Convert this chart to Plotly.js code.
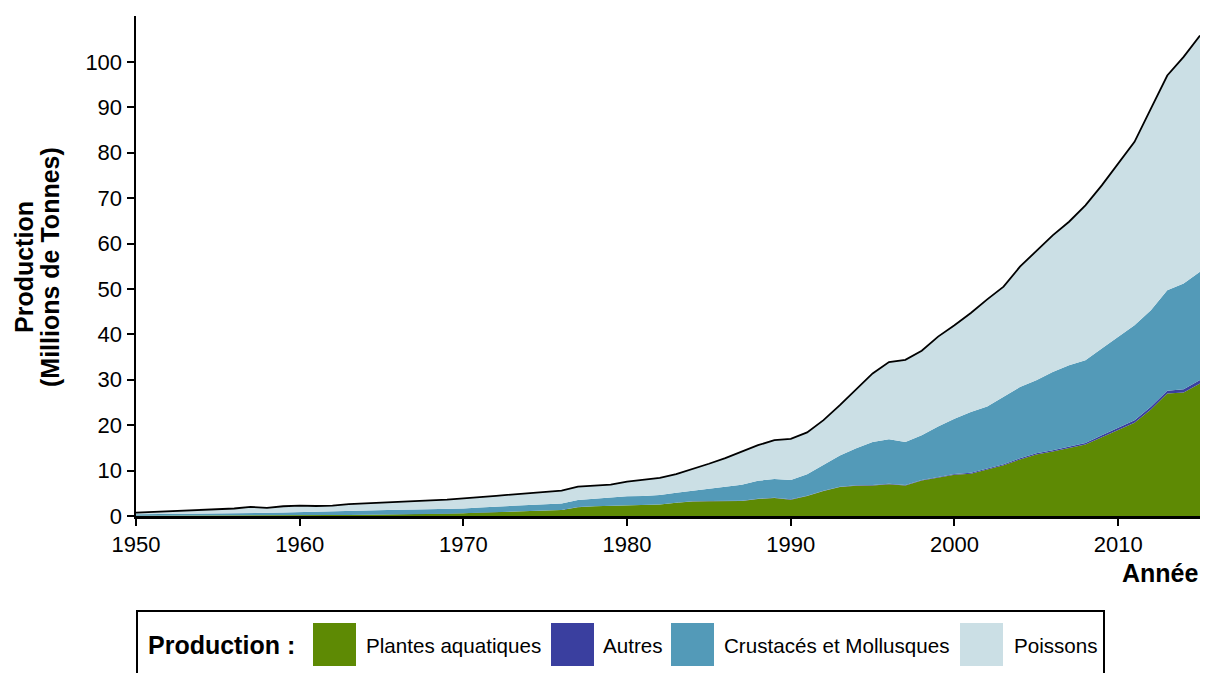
<!DOCTYPE html>
<html><head><meta charset="utf-8">
<script src="https://cdn.plot.ly/plotly-3.0.1.min.js"></script>
<style>html,body{margin:0;padding:0;background:#fff;} #chart{width:1205px;height:673px;}</style>
</head><body><div id="chart"></div>
<script>
const years = [1950,1951,1952,1953,1954,1955,1956,1957,1958,1959,
  1960,1961,1962,1963,1964,1965,1966,1967,1968,1969,
  1970,1971,1972,1973,1974,1975,1976,1977,1978,1979,
  1980,1981,1982,1983,1984,1985,1986,1987,1988,1989,
  1990,1991,1992,1993,1994,1995,1996,1997,1998,1999,
  2000,2001,2002,2003,2004,2005,2006,2007,2008,2009,
  2010,2011,2012,2013,2014,2015];

const plantes = [0.05,0.05,0.06,0.07,0.08,0.09,0.10,0.10,0.12,0.13,
  0.15,0.17,0.20,0.22,0.25,0.30,0.35,0.40,0.45,0.50,
  0.60,0.75,0.90,1.00,1.10,1.20,1.30,1.95,2.15,2.25,
  2.45,2.52,2.52,2.90,3.20,3.27,3.33,3.33,3.76,3.98,
  3.60,4.40,5.50,6.37,6.66,6.72,7.00,6.70,7.80,8.50,
  9.08,9.32,10.30,11.18,12.45,13.52,14.20,14.90,15.72,17.35,
  19.00,20.55,23.45,26.95,27.20,29.20];

const autres = [0.01,0.01,0.01,0.01,0.01,0.01,0.01,0.01,0.01,0.01,
  0.01,0.01,0.01,0.01,0.01,0.01,0.01,0.01,0.01,0.01,
  0.01,0.01,0.01,0.01,0.01,0.02,0.02,0.02,0.02,0.02,
  0.02,0.02,0.02,0.03,0.03,0.03,0.04,0.04,0.05,0.05,
  0.07,0.07,0.07,0.08,0.09,0.10,0.10,0.12,0.12,0.15,
  0.16,0.18,0.20,0.22,0.25,0.28,0.30,0.35,0.38,0.45,
  0.50,0.55,0.60,0.65,0.70,0.75];

const crustaces = [0.34,0.36,0.37,0.38,0.41,0.45,0.49,0.54,0.57,0.64,
  0.69,0.72,0.74,0.77,0.84,0.94,0.99,1.04,1.04,1.04,
  1.04,1.09,1.19,1.24,1.29,1.33,1.43,1.53,1.63,1.73,
  1.88,1.86,2.06,2.17,2.37,2.70,3.08,3.53,3.94,4.12,
  4.28,4.73,5.63,6.85,8.15,9.48,9.80,9.48,9.88,11.05,
  12.16,13.40,13.60,14.80,15.70,16.10,17.20,17.95,18.20,19.10,
  19.90,20.90,21.25,22.10,23.30,23.85];

const poissons = [0.35,0.48,0.61,0.74,0.85,0.95,1.05,1.35,1.10,1.37,
  1.45,1.30,1.35,1.60,1.70,1.75,1.80,1.85,1.95,2.05,
  2.15,2.30,2.35,2.45,2.65,2.80,2.85,2.95,2.95,2.90,
  3.20,3.60,3.80,4.10,4.70,5.50,6.30,7.20,7.85,8.55,
  9.05,9.20,9.90,11.10,13.00,15.10,17.00,18.10,18.60,19.80,
  20.60,21.80,23.60,24.30,26.50,28.50,30.10,31.60,34.10,35.90,
  38.20,40.40,44.40,47.30,49.90,52.00];

const seriesNames = ["Plantes aquatiques","Autres","Crustacés et Mollusques","Poissons"];
const seriesColors = ["#5e8a04","#3a3f9f","#539ab8","#cbdfe5"];
const xTickVals = [1950,1960,1970,1980,1990,2000,2010];
const yTickVals = [0,10,20,30,40,50,60,70,80,90,100];
const legendTitle = "Production :";
const xTitle = "Année";
const yTitleLines = ["Production","(Millions de Tonnes)"];

const W=1205, H=673, ML=136, MR=5, MT=16, MB=157;
function px(X){return (X-ML)/(W-ML-MR);}
function py(Y){return (H-MB-Y)/(H-MT-MB);}
const FONT = "Liberation Sans, Arial, Helvetica, sans-serif";

const seriesData = [plantes, autres, crustaces, poissons];
const lineStyles = [
  {width:0, color:seriesColors[0]},
  {width:0, color:seriesColors[1]},
  {width:0, color:seriesColors[2]},
  {width:1.8, color:"#000000"}
];
const traces = seriesData.map((vals,i)=>({
  x: years, y: vals, name: seriesNames[i], type:"scatter", mode:"lines",
  stackgroup:"one", fillcolor: seriesColors[i], line: Object.assign({shape:"linear"}, lineStyles[i]),
  hoverinfo:"skip", showlegend:false
}));

// manual legend
const shapes = [
  {type:"rect", xref:"paper", yref:"paper", x0:px(137), x1:px(1104), y0:py(611), y1:py(700),
   line:{color:"#000", width:2}, fillcolor:"rgba(0,0,0,0)", layer:"above"}
];
const swatchX = [313, 551, 671, 960];
const labelX = [364, 601, 722, 1012];
const annotations = [
  {xref:"paper", yref:"paper", x:px(146), y:py(645), xanchor:"left", yanchor:"middle", showarrow:false,
   text:"<b>"+legendTitle+"</b>", font:{family:FONT, size:25, color:"#000"}},
  {xref:"paper", yref:"paper", x:px(1201), y:py(573), xanchor:"right", yanchor:"middle", showarrow:false,
   text:"<b>"+xTitle+"</b>", font:{family:FONT, size:25, color:"#000"}},
  {xref:"paper", yref:"paper", x:px(24), y:py(267), xanchor:"center", yanchor:"middle", showarrow:false, textangle:-90,
   text:"<b>"+yTitleLines[0]+"</b>", font:{family:FONT, size:25, color:"#000"}},
  {xref:"paper", yref:"paper", x:px(50), y:py(267), xanchor:"center", yanchor:"middle", showarrow:false, textangle:-90,
   text:"<b>"+yTitleLines[1]+"</b>", font:{family:FONT, size:25, color:"#000"}}
];
seriesNames.forEach((n,i)=>{
  shapes.push({type:"rect", xref:"paper", yref:"paper", x0:px(swatchX[i]), x1:px(swatchX[i]+43),
    y0:py(666), y1:py(623), line:{width:0}, fillcolor:seriesColors[i]});
  annotations.push({xref:"paper", yref:"paper", x:px(labelX[i]), y:py(645), xanchor:"left", yanchor:"middle",
    showarrow:false, text:n, font:{family:FONT, size:20.6, color:"#000"}});
});

const layout = {
  width:W, height:H,
  margin:{l:ML, r:MR, t:MT, b:MB, pad:0},
  paper_bgcolor:"#fff", plot_bgcolor:"#fff",
  showlegend:false,
  font:{family:FONT, color:"#000"},
  xaxis:{range:[1950,2015], tickvals:xTickVals, ticktext:xTickVals.map(String), showgrid:false, zeroline:false,
    showline:true, linecolor:"#000", linewidth:2.5, ticks:"outside", ticklen:7, tickwidth:2, tickcolor:"#000",
    tickfont:{family:FONT, size:22, color:"#000"}},
  yaxis:{range:[0,110.1], tickvals:yTickVals, ticktext:yTickVals.map(String), showgrid:false, zeroline:false,
    showline:true, linecolor:"#000", linewidth:2.5, ticks:"outside", ticklen:7, tickwidth:2, tickcolor:"#000",
    tickfont:{family:FONT, size:22, color:"#000"}},
  shapes: shapes,
  annotations: annotations
};
Plotly.newPlot("chart", traces, layout, {staticPlot:true, displayModeBar:false});
</script></body></html>
